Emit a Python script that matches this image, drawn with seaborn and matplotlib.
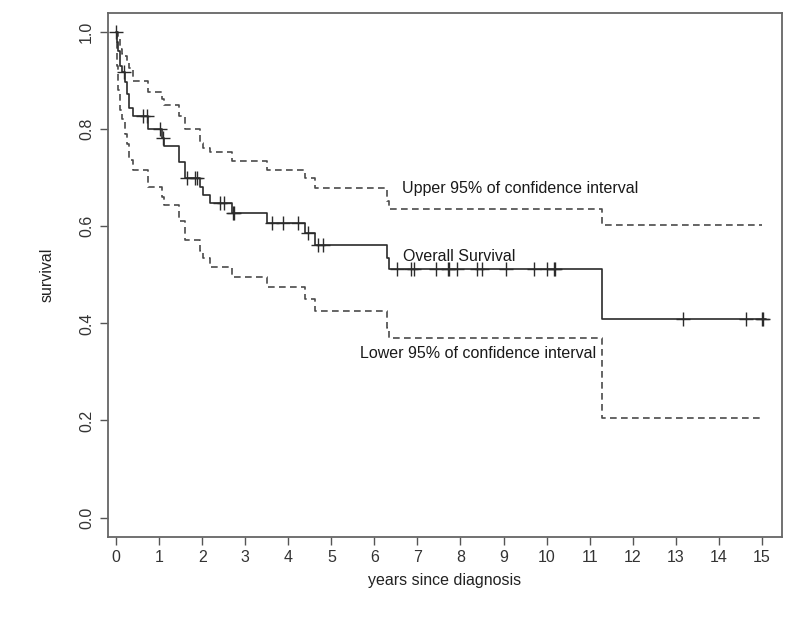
import numpy as np
import pandas as pd
import matplotlib
matplotlib.use("Agg")
import matplotlib.pyplot as plt
import seaborn as sns

# ---- data (Kaplan-Meier estimate with 95% CI) ----
event_times = [0.0, 0.02, 0.05, 0.08, 0.10, 0.13, 0.21, 0.25, 0.29, 0.40, 0.75,
               1.06, 1.10, 1.47, 1.60, 1.95, 2.02, 2.18, 2.69, 3.50, 4.39, 4.62,
               6.30, 6.33, 11.29]
survival = [1.0, 0.98, 0.96, 0.94, 0.93, 0.917, 0.897, 0.873, 0.843, 0.826, 0.80,
            0.781, 0.765, 0.733, 0.699, 0.68, 0.665, 0.648, 0.627, 0.607, 0.586, 0.562,
            0.535, 0.512, 0.409]
upper_ci = [1.0, 1.0, 0.99, 0.975, 0.965, 0.955, 0.95, 0.94, 0.925, 0.90, 0.877,
            0.862, 0.85, 0.826, 0.80, 0.771, 0.762, 0.752, 0.735, 0.716, 0.700, 0.679,
            0.652, 0.636, 0.603]
lower_ci = [1.0, 0.93, 0.88, 0.855, 0.84, 0.82, 0.79, 0.77, 0.737, 0.715, 0.68,
            0.66, 0.643, 0.61, 0.572, 0.55, 0.535, 0.516, 0.496, 0.475, 0.45, 0.425,
            0.39, 0.370, 0.206]
censor_times = [0.0, 0.18, 0.63, 0.71, 1.02, 1.08, 1.65, 1.83, 1.88, 2.42, 2.51,
                2.71, 2.73, 3.61, 3.87, 4.22, 4.46, 4.70, 4.81, 6.53, 6.84, 6.93,
                7.42, 7.72, 7.74, 7.91, 8.39, 8.50, 9.05, 9.71, 10.02, 10.17, 10.20,
                13.16, 14.64, 15.00, 15.02]
last_followup = 15.1
ci_end = 15.0

x_ticks = list(range(0, 16))
y_ticks = [0.0, 0.2, 0.4, 0.6, 0.8, 1.0]
x_label = "years since diagnosis"
y_label = "survival"
label_upper = "Upper 95% of confidence interval"
label_surv = "Overall Survival"
label_lower = "Lower 95% of confidence interval"

# ---- build step tables ----
surv_df = pd.DataFrame({"time": event_times + [last_followup],
                        "value": survival + [survival[-1]]})
upper_df = pd.DataFrame({"time": event_times + [ci_end],
                         "value": upper_ci + [upper_ci[-1]]})
lower_df = pd.DataFrame({"time": event_times + [ci_end],
                         "value": lower_ci + [lower_ci[-1]]})
idx = np.searchsorted(np.array(event_times), np.array(censor_times), side="right") - 1
cens_df = pd.DataFrame({"time": censor_times, "value": np.array(survival)[idx]})

sns.set_theme(style="white")
plt.rcParams["font.family"] = ["Liberation Sans", "DejaVu Sans"]

fig = plt.figure(figsize=(8.0, 6.27), dpi=100)
ax = fig.add_axes([0.135, 0.1435, 0.8425, 0.8365])

line_col = "#2b2b2b"
ci_col = "#4a4a4a"
sns.lineplot(data=upper_df, x="time", y="value", ax=ax, estimator=None, sort=False,
             drawstyle="steps-post", color=ci_col, linewidth=1.2, linestyle=(0, (4, 2.6)))
sns.lineplot(data=lower_df, x="time", y="value", ax=ax, estimator=None, sort=False,
             drawstyle="steps-post", color=ci_col, linewidth=1.2, linestyle=(0, (4, 2.6)))
sns.lineplot(data=surv_df, x="time", y="value", ax=ax, estimator=None, sort=False,
             drawstyle="steps-post", color=line_col, linewidth=1.2)
sns.scatterplot(data=cens_df, x="time", y="value", ax=ax, marker="+", s=110,
                color=line_col, linewidth=1.0, zorder=5)

txt_kw = dict(fontsize=11.5, color="#1a1a1a", va="center", ha="left")
ax.text(6.64, 0.677, label_upper, **txt_kw)
ax.text(6.66, 0.537, label_surv, **txt_kw)
ax.text(5.67, 0.337, label_lower, **txt_kw)

ax.set_xlim(-0.19, 15.47)
ax.set_ylim(-0.04, 1.04)
ax.set_xticks(x_ticks)
ax.set_xticklabels([str(t) for t in x_ticks])
ax.set_yticks(y_ticks)
ax.set_yticklabels([f"{t:.1f}" for t in y_ticks], rotation=90, va="center")
ax.tick_params(axis="both", direction="out", length=6, width=1, color="#555555",
               labelsize=11.5, labelcolor="#333333", bottom=True, left=True)
ax.tick_params(axis="x", pad=3)
ax.tick_params(axis="y", pad=4)
ax.set_xlabel(x_label, fontsize=11.5, color="#222222", labelpad=6)
ax.set_ylabel(y_label, fontsize=11.5, color="#222222", labelpad=18)
for sp in ax.spines.values():
    sp.set_color("#666666")
    sp.set_linewidth(1.3)

fig.savefig("out.png", dpi=100)
